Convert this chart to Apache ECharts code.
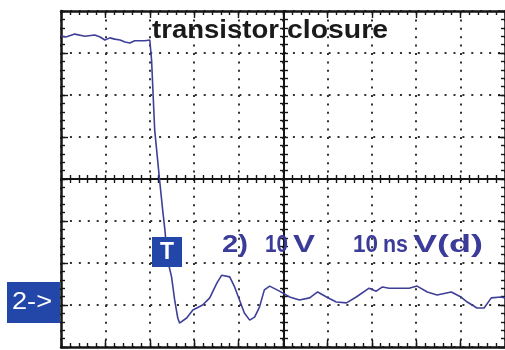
<!DOCTYPE html>
<html><head><meta charset="utf-8">
<script src="https://cdn.jsdelivr.net/npm/echarts@6/dist/echarts.min.js"></script>
<style>html,body{margin:0;padding:0;background:#fff}#c{width:505px;height:350px}</style>
</head><body><div id="c"></div>
<script>
// time in ns (10 ns/div), voltage in V (10 V/div), ground marker at 0 V
const timeNs = [0,1.1,3.1,5.4,7.6,8.8,9.9,11.0,12.1,13.3,14.4,15.5,16.6,17.8,18.9,20.0,
  20.4,21.1,22.2,22.9,23.4,24.0,24.9,25.6,26.3,26.7,
  28.3,29.7,31.9,33.5,35.1,36.2,38.0,39.1,40.2,41.3,42.5,43.6,44.7,45.8,47.0,49.2,51.5,53.7,56.0,57.8,59.8,62.0,64.3,66.5,69.4,71.0,72.4,73.9,76.2,78.4,80.2,82.5,84.7,87.9,90.1,91.5,93.7,95.3,96.9,99.1,100];
const volts = [64.0,63.8,64.5,64.0,64.3,63.8,63.1,63.6,63.3,63.1,62.6,62.4,62.9,62.9,62.9,63.1,
  58.3,41.7,29.8,22.6,17.9,10.7,6.7,1.2,-3.1,-4.3,
  -3.1,-1.2,0,1.7,5.2,7.1,6.7,4.3,1.2,-1.9,-3.6,-2.9,-0.5,3.6,4.5,3.3,1.9,1.2,1.7,3.1,1.9,0.7,0.5,1.9,4.0,3.3,4.3,4.0,4.0,4.0,4.5,3.1,2.4,3.1,1.9,0.7,-0.7,-0.7,1.7,1.9,1.7];
const xMin = 0, xMax = 100, xStep = 10, xMinor = 2;
const yMin = -10, yMax = 70, yStep = 10, yMinor = 2;
const titleWords = ['transistor', 'closure'];
const scaleParts = ['2)', '10', 'V', '10', 'ns', 'V(d)'];
const triggerLabel = 'T';
const groundLabel = '2->';

const chart = echarts.init(document.getElementById('c'));
const G = {left: 61, top: 11, width: 446, height: 336};
const black = '#151515';
const traceColor = '#3f3f98';
const boxColor = '#2347a8';
const textBlue = '#3b3b9a';

const cvs = document.createElement('canvas').getContext('2d');
function fitText(text, left, cy, targetW, size, color, weight) {
  const font = (weight || 'bold') + ' ' + size + 'px "Liberation Sans"';
  cvs.font = font;
  const w = cvs.measureText(text).width;
  return {type: 'text', x: left, y: cy, scaleX: targetW / w, z: 100,
    style: {text: text, font: font, fill: color, textAlign: 'left', verticalAlign: 'middle'}};
}

function ax(isX, pos, offset, inside, step, tickLen, showLine, split, lineW) {
  return {type: 'value', min: isX ? xMin : yMin, max: isX ? xMax : yMax, interval: step,
    position: pos, offset: offset,
    axisLine: {show: showLine, onZero: false, lineStyle: {color: black, width: lineW || 2.5}},
    axisTick: {show: true, inside: inside, length: tickLen, lineStyle: {color: black, width: 1.4}},
    axisLabel: {show: false},
    splitLine: {show: split, lineStyle: {color: '#333', width: 2, type: isX ? [2, 6.4] : [2, 6.92]}}};
}

const midY = -G.height / 2;
const midX = -G.width / 2;

const graphics = [
  fitText(titleWords[0], 152, 31, 127, 26, '#1a1a1a'),
  fitText(titleWords[1], 287, 31, 101, 26, '#1a1a1a'),
  fitText(scaleParts[0], 222, 245, 26, 24, textBlue),
  fitText(scaleParts[1], 265, 245, 23, 24, textBlue),
  fitText(scaleParts[2], 293, 245, 22, 24, textBlue),
  fitText(scaleParts[3], 353, 245, 25, 24, textBlue),
  fitText(scaleParts[4], 383, 245, 25, 24, textBlue),
  fitText(scaleParts[5], 413, 245, 70, 24, textBlue),
  {type: 'rect', shape: {x: 152, y: 237, width: 30, height: 30}, style: {fill: boxColor}, z: 100},
  fitText(triggerLabel, 160, 252, 14, 24, '#ffffff'),
  {type: 'rect', shape: {x: 7, y: 282, width: 53, height: 41}, style: {fill: boxColor}, z: 100},
  fitText(groundLabel, 12, 302, 40, 24, '#ffffff', 'normal')
];

chart.setOption({
  animation: false,
  backgroundColor: '#ffffff',
  grid: G,
  xAxis: [
    ax(true, 'bottom', 0, true, xStep, 7, true, true),
    ax(true, 'bottom', 0, true, xMinor, 4, false, false),
    ax(true, 'top', 0, true, xStep, 7, true, false),
    ax(true, 'top', 0, true, xMinor, 4, false, false),
    ax(true, 'bottom', midY, true, xMinor, 4, true, false, 2),
    ax(true, 'bottom', midY, false, xMinor, 4, false, false)
  ],
  yAxis: [
    ax(false, 'left', 0, true, yStep, 7, true, true),
    ax(false, 'left', 0, true, yMinor, 4, false, false),
    ax(false, 'right', 0, true, yStep, 7, true, false),
    ax(false, 'right', 0, true, yMinor, 4, false, false),
    ax(false, 'left', midX, true, yMinor, 4, true, false, 2),
    ax(false, 'left', midX, false, yMinor, 4, false, false)
  ],
  series: [{
    type: 'line', xAxisIndex: 0, yAxisIndex: 0, showSymbol: false, z: 10,
    lineStyle: {color: traceColor, width: 1.6},
    data: timeNs.map((t, i) => [t, volts[i]])
  }],
  graphic: graphics
});
</script></body></html>
